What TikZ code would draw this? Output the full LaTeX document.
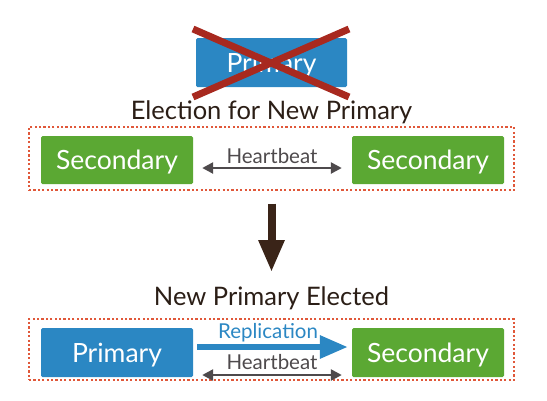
\documentclass[tikz,border=0pt]{standalone}
\usepackage{fontspec}
\setmainfont{Lato}
\usetikzlibrary{arrows.meta}
\definecolor{bblue}{HTML}{2B87C3}
\definecolor{bgreen}{HTML}{5BA833}
\definecolor{xred}{HTML}{A8291F}
\definecolor{dashc}{HTML}{E0583A}
\definecolor{ttext}{HTML}{2B1E16}
\definecolor{hbgrey}{HTML}{4E4A4C}
\definecolor{darrow}{HTML}{3A2418}
\tikzset{
  box/.style={rounded corners=1.5pt, minimum width=152pt, minimum height=48pt, inner sep=0pt, text depth=0pt, text=white, font=\fontsize{26.5}{26.5}\selectfont},
  pbox/.style={box, fill=bblue},
  sbox/.style={box, fill=bgreen},
  group/.style={draw=dashc, line width=1.2pt, dash pattern=on 2.2pt off 2.2pt, minimum width=485pt, inner sep=0pt},
  title/.style={text=ttext, font=\fontsize{25.5}{25.5}\selectfont, inner sep=0pt},
  hb/.style={draw=hbgrey, line width=2.5pt, {Triangle[length=11pt,width=11pt]}-{Triangle[length=11pt,width=11pt]}},
  hblabel/.style={text=hbgrey, font=\fontsize{20.5}{20.5}\selectfont, inner sep=0pt},
  repl/.style={draw=bblue, line width=6pt, -{Triangle[length=28pt,width=22pt]}},
  cross/.style={draw=xred, line width=7pt},
  down/.style={draw=darrow, line width=8pt, -{Triangle[length=32pt,width=24pt]}}
}
\begin{document}
\begin{tikzpicture}[x=1pt,y=-1pt]
\useasboundingbox (0,0) rectangle (547,400);
% top crossed primary
\node[pbox, minimum width=151pt, minimum height=49pt] (oldp) at (271.5,62.5) {Primary};
\coordinate (x1a) at (193,29);
\coordinate (x1b) at (349,97);
\coordinate (x2a) at (193,97);
\coordinate (x2b) at (349,29);
\draw[cross] (x1a) -- (x1b);
\draw[cross] (x2a) -- (x2b);
\node[title] (t1) at (271.5,112) {Election for New Primary};
% group 1
\node[group, minimum height=63pt] (g1) at (271.5,158.5) {};
\node[sbox] (s1) at (117,160) {Secondary};
\node[sbox] (s2) at (428,160) {Secondary};
\draw[hb, shorten <=9pt, shorten >=10pt] ([yshift=-8pt]s1.east) -- ([yshift=-8pt]s2.west);
\node[hblabel] (h1) at (272,156) {Heartbeat};
% down arrow
\node[title] (t2) at (271.5,298) {New Primary Elected};
\draw[down, shorten <=13pt, shorten >=14pt] (g1.south) -- (t2.north);
% group 2
\node[group, minimum height=61pt] (g2) at (271.5,349.5) {};
\node[pbox, minimum height=49pt] (p2) at (117,352.5) {Primary};
\node[sbox, minimum height=49pt] (s3) at (428,352.5) {Secondary};
\draw[repl, shorten <=4pt, shorten >=4pt] ([yshift=5.5pt]p2.east) -- ([yshift=5.5pt]s3.west);
\node[text=bblue, font=\fontsize{20.5}{20.5}\selectfont, inner sep=0pt] (r1) at (268,333) {Replication};
\draw[hb, shorten <=9pt, shorten >=10pt] ([yshift=-22.5pt]p2.east) -- ([yshift=-22.5pt]s3.west);
\node[hblabel] (h2) at (272,362) {Heartbeat};
\end{tikzpicture}
\end{document}
